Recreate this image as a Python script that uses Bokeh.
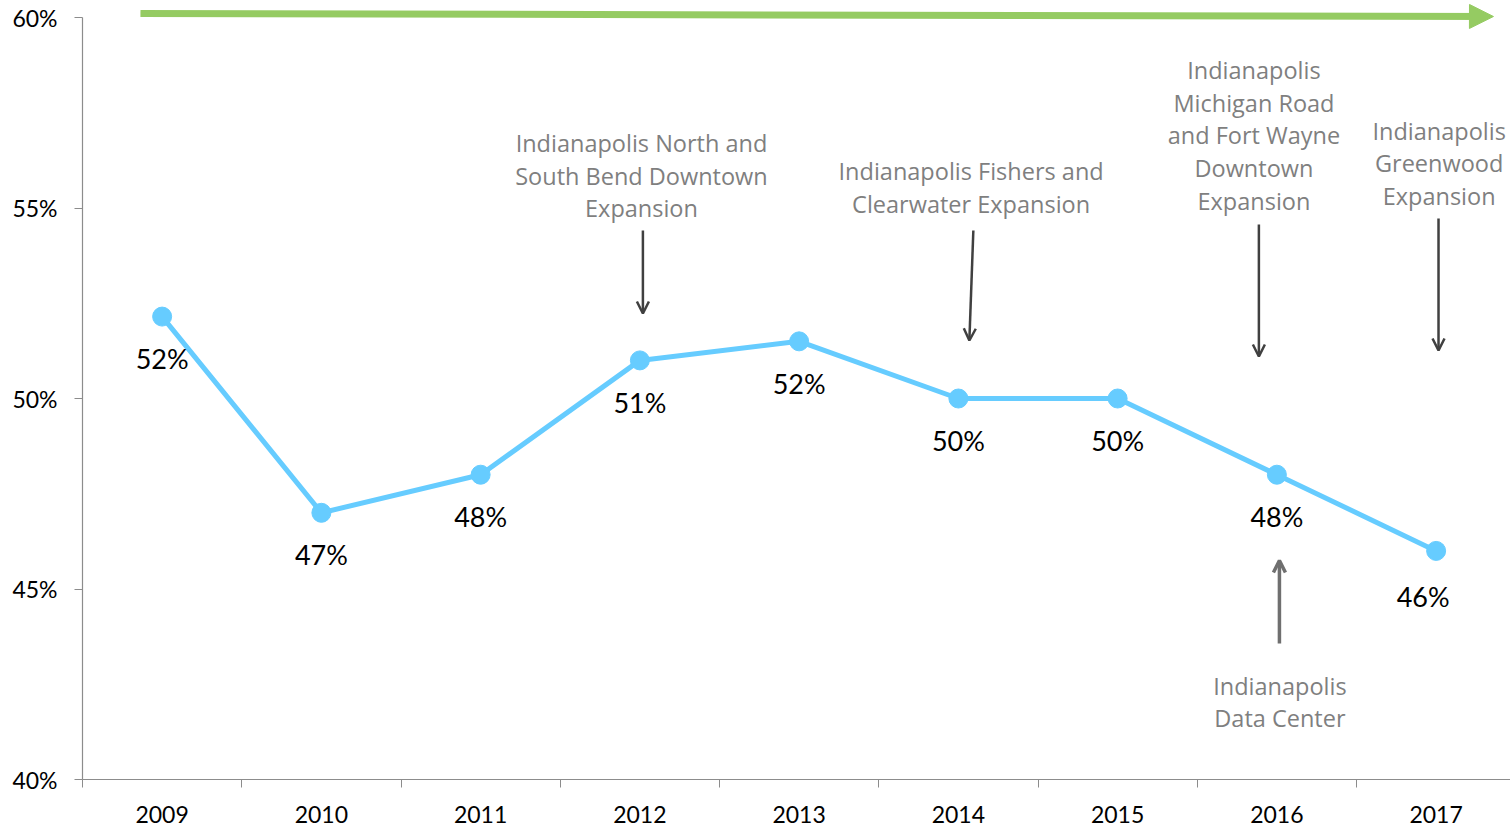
from bokeh.plotting import figure
from bokeh.models import (Range1d, FixedTicker, Arrow, NormalHead, OpenHead,
                          ColumnDataSource, PrintfTickFormatter)
from bokeh.embed import file_html
from bokeh.resources import INLINE
from bokeh.core.properties import value

# ---- data ----
years = [2009, 2010, 2011, 2012, 2013, 2014, 2015, 2016, 2017]
share = [52.15, 47.0, 48.0, 51.0, 51.5, 50.0, 50.0, 48.0, 46.0]
share_labels = ["52%", "47%", "48%", "51%", "52%", "50%", "50%", "48%", "46%"]
y_ticks = [40, 45, 50, 55, 60]

# annotation texts (one entry per line)
ann_text = [
    "Indianapolis North and", "South Bend Downtown", "Expansion",
    "Indianapolis Fishers and", "Clearwater Expansion",
    "Indianapolis", "Michigan Road", "and Fort Wayne", "Downtown", "Expansion",
    "Indianapolis", "Greenwood", "Expansion",
    "Indianapolis", "Data Center",
]

# ---- styles / layout ----
LINE_BLUE = "#66ccff"
GREEN = "#95cb62"
AXIS_GREY = "#8c8c8c"
ANN_GREY = "#7f7f7f"
ARROW_DARK = "#404040"

label_dx = [0, 0, 0, 0, 0, 0, 0, 0, -13]
label_dy = [42, 42, 42, 42, 42, 42, 42, 42, 46]

ann_x = [2012.01] * 3 + [2014.08] * 2 + [2015.856] * 5 + [2017.019] * 3 + [2016.019] * 2
ann_y = [56.693, 55.827, 54.987,
         55.984, 55.118,
         58.609, 57.769, 56.903, 56.037, 55.171,
         57.034, 56.168, 55.302,
         42.467, 41.627]

p = figure(width=1510, height=827, output_backend="svg", toolbar_location=None,
           x_range=Range1d(2008.5, 2017.467), y_range=Range1d(40, 60 + 17 / 38.1),
           min_border_left=82, min_border_right=0, min_border_top=0,
           min_border_bottom=48)
p.outline_line_color = None
p.grid.visible = False
p.background_fill_color = "white"
p.border_fill_color = "white"

# x axis: labels at centers, ticks at category boundaries
xa = p.xaxis[0]
xa.ticker = FixedTicker(ticks=years, minor_ticks=[y - 0.5 for y in years] + [2017.5])
xa.major_label_overrides = {y: str(y) for y in years}
xa.major_tick_line_color = None
xa.major_tick_out = 8
xa.major_tick_in = 0
xa.minor_tick_out = 8
xa.minor_tick_in = 0
xa.minor_tick_line_color = AXIS_GREY
xa.axis_line_color = AXIS_GREY
xa.axis_line_width = 1.2
xa.major_label_standoff = 18
xa.major_label_text_font = "Lato"
xa.major_label_text_font_size = "23px"
xa.major_label_text_color = "#000000"

ya = p.yaxis[0]
ya.ticker = FixedTicker(ticks=y_ticks, minor_ticks=[])
ya.formatter = PrintfTickFormatter(format="%d%%")
ya.bounds = (40, 60)
ya.major_tick_out = 8
ya.major_tick_in = 0
ya.major_tick_line_color = AXIS_GREY
ya.minor_tick_line_color = None
ya.axis_line_color = AXIS_GREY
ya.axis_line_width = 1.2
ya.major_label_standoff = 17
ya.major_label_text_font = "Lato"
ya.major_label_text_font_size = "23px"
ya.major_label_text_color = "#000000"

# series
src = ColumnDataSource(dict(x=years, y=share, t=share_labels, dx=label_dx, dy=label_dy))
p.line("x", "y", source=src, line_width=5, line_color=LINE_BLUE)
p.scatter("x", "y", source=src, size=19, fill_color=LINE_BLUE, line_color=LINE_BLUE)
p.text("x", "y", text="t", source=src, x_offset="dx", y_offset="dy",
       text_align="center", text_baseline="middle",
       text_font=value("Lato"), text_font_size="27px", text_color="#000000")

# annotation texts
asrc = ColumnDataSource(dict(x=ann_x, y=ann_y, t=ann_text))
p.text("x", "y", text="t", source=asrc, text_align="center", text_baseline="middle",
       text_font=value("Open Sans"), text_font_size="23.5px", text_color=ANN_GREY)

# pointer arrows
arrows = [
    (2012.019, 54.409, 2012.019, 52.231, ARROW_DARK, 2.5),
    (2014.094, 54.409, 2014.069, 51.522, ARROW_DARK, 2.5),
    (2015.887, 54.567, 2015.887, 51.102, ARROW_DARK, 2.5),
    (2017.015, 54.724, 2017.015, 51.260, ARROW_DARK, 2.5),
    (2016.016, 43.570, 2016.016, 45.748, "#6f6f6f", 3.5),
]
for x0, y0, x1, y1, c, w in arrows:
    p.add_layout(Arrow(x_start=x0, y_start=y0, x_end=x1, y_end=y1,
                       line_color=c, line_width=w,
                       end=OpenHead(size=12, line_color=c, line_width=w)))

# green trend arrow along the top
p.add_layout(Arrow(x_start=2008.864, y_start=60.105, x_end=2017.36, y_end=60.026,
                   line_color=GREEN, line_width=7,
                   end=NormalHead(size=24, fill_color=GREEN, line_color=GREEN)))

open("out.html", "w").write(file_html(p, INLINE))
